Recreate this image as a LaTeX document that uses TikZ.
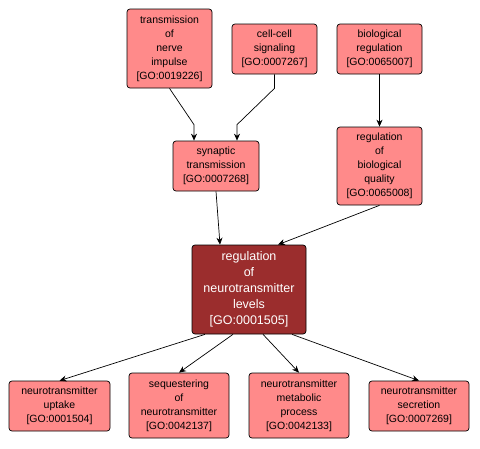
\documentclass[tikz,border=0pt]{standalone}
\usepackage{fontspec}
\setmainfont{Liberation Sans}
\usepackage{xcolor}
\usepackage{tikz}
\usetikzlibrary{arrows.meta, positioning, calc}
\definecolor{goterm}{RGB}{255,138,138}
\definecolor{goquery}{RGB}{155,45,45}

\begin{document}
\begin{tikzpicture}[x=1pt, y=-1pt,
  term/.style={draw=black, line width=0.7pt, fill=goterm, rounded corners=3pt,
    align=center, inner sep=0pt, font=\fontsize{10.5}{14}\selectfont},
  query/.style={term, fill=goquery, text=white, font=\fontsize{12.5}{16}\selectfont},
  isa/.style={-{Stealth[length=7pt,width=6pt]}, line width=0.7pt}]
  % canvas: 480 x 448, y runs downwards
  \useasboundingbox (0,0) rectangle (480,448);
  % top row
  \node[term, minimum width=85pt, minimum height=79pt] (nerve) at (169.5,48.5)
    {transmission\\of\\nerve\\impulse\\{[GO:0019226]}};
  \node[term, minimum width=85pt, minimum height=50pt] (cell) at (274.5,49)
    {cell-cell\\signaling\\{[GO:0007267]}};
  \node[term, minimum width=85pt, minimum height=50pt] (bioreg) at (379.5,49)
    {biological\\regulation\\{[GO:0065007]}};
  % second row
  \node[term, minimum width=86pt, minimum height=50pt] (syn) at (216,166)
    {synaptic\\transmission\\{[GO:0007268]}};
  \node[term, minimum width=85pt, minimum height=78pt] (qual) at (379.5,166)
    {regulation\\of\\biological\\quality\\{[GO:0065008]}};
  % query term
  \node[query, minimum width=114pt, minimum height=89pt] (levels) at (249,289.5)
    {regulation\\of\\neurotransmitter\\levels\\{[GO:0001505]}};
  % bottom row
  \node[term, minimum width=101pt, minimum height=50pt] (uptake) at (59.5,406)
    {neurotransmitter\\uptake\\{[GO:0001504]}};
  \node[term, minimum width=100pt, minimum height=65pt] (seq) at (179,405.5)
    {sequestering\\of\\neurotransmitter\\{[GO:0042137]}};
  \node[term, minimum width=100pt, minimum height=65pt] (metab) at (299,405.5)
    {neurotransmitter\\metabolic\\process\\{[GO:0042133]}};
  \node[term, minimum width=100pt, minimum height=50pt] (secr) at (419,406)
    {neurotransmitter\\secretion\\{[GO:0007269]}};
  % edges
  \draw[isa] (nerve.south) -- ([xshift=-22pt,yshift=16pt]syn.north) -- ([xshift=-22pt]syn.north);
  \draw[isa] (cell.south) -- ([yshift=-14pt]cell.south) -- ([xshift=21pt,yshift=16pt]syn.north) -- ([xshift=21pt]syn.north);
  \draw[isa] (bioreg) -- (qual);
  \draw[isa] (syn.south) -- ([xshift=-29pt]levels.north);
  \draw[isa] (qual.south) -- ([xshift=29pt]levels.north);
  \foreach \dx/\t in {-44/uptake, -16/seq, 14/metab, 43/secr} {
    \draw[isa] ([xshift=\dx pt]levels.south) -- (\t.north);
  }
\end{tikzpicture}
\end{document}
